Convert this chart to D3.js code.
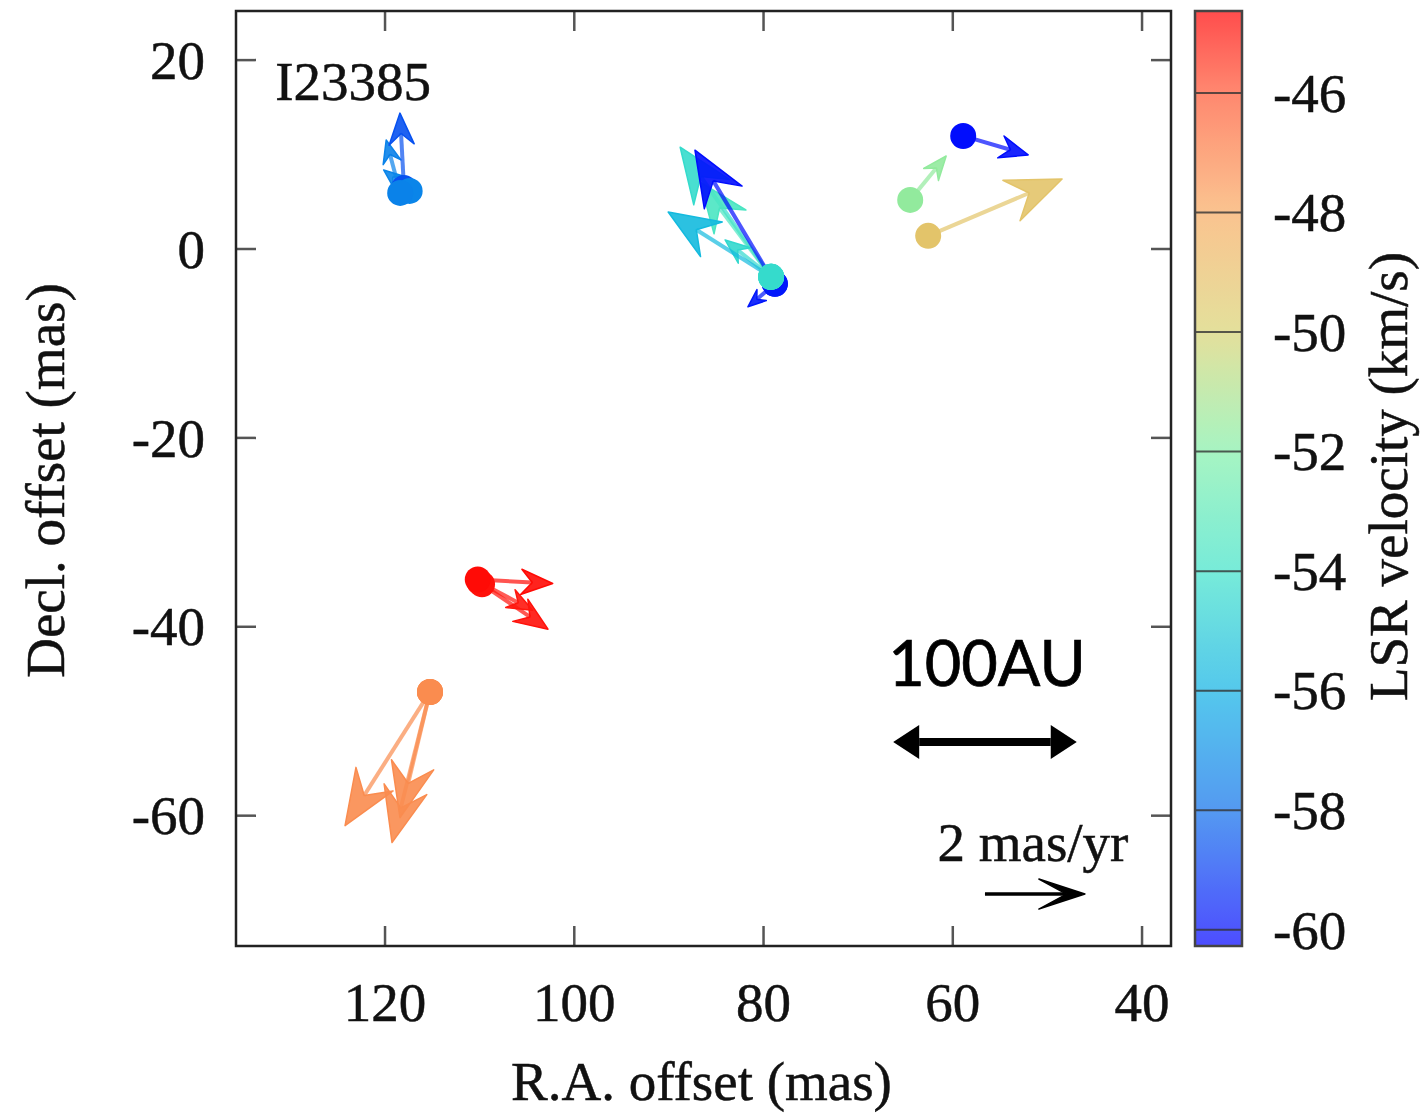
<!DOCTYPE html>
<html>
<head>
<meta charset="utf-8">
<script src="https://cdn.jsdelivr.net/npm/d3@7"></script>
<style>
  body { margin: 0; background: #fff; }
  text { font-family: "Liberation Serif", "DejaVu Serif", serif; fill: #111; stroke: #111; stroke-width: 0.5px; }
</style>
</head>
<body>
<div id="chart"></div>
<script>
// maser spots: position (mas), LSR velocity (km/s), proper motion (mas/yr, +RA = east)
// order = arrow draw order, circles get drawn in reverse
var spotRA    = [118.4, 117.4, 118.0,  79.2,  79.2,  79.2,  79.2,  78.8,  78.8,  58.9,  64.5,  62.6, 110.2, 109.75, 110.0, 115.25, 115.25, 115.25];
var spotDec   = [5.94,  6.15,  6.47,  -2.95, -2.95, -2.95, -2.95, -3.69, -3.69, 11.97,  5.2,   1.39, -35.0, -35.5, -35.3, -46.9, -46.9, -46.9];
var spotVlsr  = [-57.4, -57.3, -58.6, -54.3, -53.6, -54.4, -55.6, -59.8, -60.0, -60.0, -51.6, -49.3, -44.8, -44.9, -45.0, -47.3, -47.3, -47.3];
var spotMuRA  = [0.28,  0.52,  0.08,  1.82,  1.42,  0.92,  2.06,  0.54,  1.60, -1.30, -0.72, -2.68, -1.50, -1.32, -1.06, 1.70, 0.76, 0.60];
var spotMuDec = [1.06,  0.42,  1.50,  2.60,  1.90,  0.74,  1.30, -0.46,  2.68, -0.38,  0.88,  1.14, -0.08, -0.90, -0.56, -2.68, -3.02, -2.52];

var xTicks = [120, 100, 80, 60, 40];
var yTicks = [20, 0, -20, -40, -60];
var cbTicks = [-46, -48, -50, -52, -54, -56, -58, -60];

// colour palette stops (velocity -> colour)
var paletteVel = [-60.27, -58, -56, -54, -52, -50, -48, -46, -44.63];
var paletteCol = ["#0000ff", "#0a6eeb", "#0ab0e4", "#3ce2c8", "#80f0a8", "#d8d270", "#f8aa5f", "#ff5532", "#ff0000"];

var sourceName = "I23385";
var vecScale = 5.28;          // mas of offset drawn per 1 mas/yr
var refMotion = 2;            // mas/yr reference arrow
var refArrowRA = 56.6, refArrowDec = -68.3;
var scaleBarAU = 100;
var scaleBarRA = [66.3, 46.9], scaleBarDec = -52.2;

var W = 1428, H = 1113;
var pL = 236, pR = 1171, pT = 11, pB = 946;
var fs = "55px";

var svg = d3.select("#chart").append("svg")
    .attr("width", W)
    .attr("height", H);

var x = d3.scaleLinear().domain([135.75, 36.94]).range([pL, pR]);
var y = d3.scaleLinear().domain([-73.8, 25.2]).range([pB, pT]);
var color = d3.scaleLinear().domain(paletteVel).range(paletteCol).clamp(true);

// ---- frame + inward ticks on all four sides
var tickLen = 20;
var tickG = svg.append("g").attr("stroke", "#555").attr("stroke-width", 2.5);
xTicks.forEach(function(t) {
    tickG.append("line").attr("x1", x(t)).attr("x2", x(t)).attr("y1", pB).attr("y2", pB - tickLen);
    tickG.append("line").attr("x1", x(t)).attr("x2", x(t)).attr("y1", pT).attr("y2", pT + tickLen);
});
yTicks.forEach(function(t) {
    tickG.append("line").attr("x1", pL).attr("x2", pL + tickLen).attr("y1", y(t)).attr("y2", y(t));
    tickG.append("line").attr("x1", pR).attr("x2", pR - tickLen).attr("y1", y(t)).attr("y2", y(t));
});

svg.append("rect")
    .attr("x", pL).attr("y", pT)
    .attr("width", pR - pL).attr("height", pB - pT)
    .attr("fill", "none").attr("stroke", "#222").attr("stroke-width", 2.5);

svg.selectAll(".xlab").data(xTicks).enter().append("text")
    .attr("class", "xlab")
    .attr("x", function(d) { return x(d); })
    .attr("y", 1021)
    .attr("text-anchor", "middle")
    .style("font-size", fs)
    .text(function(d) { return d; });

svg.selectAll(".ylab").data(yTicks).enter().append("text")
    .attr("class", "ylab")
    .attr("x", 205)
    .attr("y", function(d) { return y(d); })
    .attr("dy", "0.34em")
    .attr("text-anchor", "end")
    .style("font-size", fs)
    .text(function(d) { return d; });

svg.append("text")
    .attr("x", (pL + pR) / 2 - 2).attr("y", 1100)
    .attr("text-anchor", "middle")
    .style("font-size", fs)
    .text("R.A. offset (mas)");

svg.append("text")
    .attr("transform", "translate(64," + ((pT + pB) / 2 + 2) + ") rotate(-90)")
    .attr("text-anchor", "middle")
    .style("font-size", fs)
    .text("Decl. offset (mas)");

// ---- arrows
function arrowParts(x0, y0, x1, y1, hlFix, hwFix, notchFrac) {
    var dx = x1 - x0, dy = y1 - y0;
    var L = Math.sqrt(dx * dx + dy * dy);
    var ux = dx / L, uy = dy / L;
    var nx = -uy, ny = ux;
    var hl = hlFix || Math.max(18, Math.min(0.42 * L, 55));
    var hw = hwFix || hl * 0.4;
    var nf = notchFrac == null ? 0.35 : notchFrac;
    var bx = x1 - ux * hl, by = y1 - uy * hl;
    var mx = x1 - ux * hl * (1 - nf), my = y1 - uy * hl * (1 - nf);
    var head = "M" + x1 + "," + y1 +
        "L" + (bx + nx * hw) + "," + (by + ny * hw) +
        "L" + mx + "," + my +
        "L" + (bx - nx * hw) + "," + (by - ny * hw) + "Z";
    return {head: head, sx: mx, sy: my};
}

var spots = spotRA.map(function(ra, i) {
    return {ra: ra, dec: spotDec[i], v: spotVlsr[i], mra: spotMuRA[i], mdec: spotMuDec[i]};
});

var arrowG = svg.append("g");
spots.forEach(function(d) {
    var x0 = x(d.ra), y0 = y(d.dec);
    var x1 = x(d.ra + d.mra * vecScale), y1 = y(d.dec + d.mdec * vecScale);
    var a = arrowParts(x0, y0, x1, y1);
    var c = color(d.v);
    arrowG.append("line")
        .attr("x1", x0).attr("y1", y0).attr("x2", a.sx).attr("y2", a.sy)
        .attr("stroke", c).attr("stroke-width", 4).attr("stroke-opacity", 0.7);
    arrowG.append("path")
        .attr("d", a.head)
        .attr("fill", c).attr("fill-opacity", 0.9)
        .attr("stroke", c).attr("stroke-width", 1.5).attr("stroke-linejoin", "round");
});

svg.append("g").selectAll("circle")
    .data(spots.slice().reverse())
    .enter().append("circle")
    .attr("cx", function(d) { return x(d.ra); })
    .attr("cy", function(d) { return y(d.dec); })
    .attr("r", 13)
    .attr("fill", function(d) { return color(d.v); });

// source name
svg.append("text")
    .attr("x", x(131.6)).attr("y", y(15.8))
    .style("font-size", fs)
    .text(sourceName);

// 100 AU scale bar
var sbY = y(scaleBarDec), sbX0 = x(scaleBarRA[0]), sbX1 = x(scaleBarRA[1]);
var sbL = arrowParts(sbX1, sbY, sbX0, sbY, 26, 17, 0);
var sbR = arrowParts(sbX0, sbY, sbX1, sbY, 26, 17, 0);
svg.append("line")
    .attr("x1", sbL.sx).attr("x2", sbR.sx).attr("y1", sbY).attr("y2", sbY)
    .attr("stroke", "#000").attr("stroke-width", 8);
svg.append("path").attr("d", sbL.head).attr("fill", "#000");
svg.append("path").attr("d", sbR.head).attr("fill", "#000");
svg.append("text")
    .attr("x", (sbX0 + sbX1) / 2 + 2).attr("y", y(scaleBarDec) - 56)
    .attr("text-anchor", "middle")
    .style("font-family", "Lato, 'Noto Sans', sans-serif")
    .style("font-size", "63px")
    .style("fill", "#000").style("stroke", "#000").style("stroke-width", "0.7px")
    .text(scaleBarAU + "AU");

// reference proper motion arrow
var rx0 = x(refArrowRA), ry0 = y(refArrowDec);
var rx1 = x(refArrowRA - refMotion * vecScale);
var ref = arrowParts(rx0, ry0, rx1, ry0, 46, 15, 0.6);
svg.append("line")
    .attr("x1", rx0).attr("x2", ref.sx).attr("y1", ry0).attr("y2", ry0)
    .attr("stroke", "#000").attr("stroke-width", 3.5);
svg.append("path").attr("d", ref.head).attr("fill", "#000")
    .attr("stroke", "#000").attr("stroke-width", 1.5).attr("stroke-linejoin", "round");
svg.append("text")
    .attr("x", (rx0 + rx1) / 2 - 2).attr("y", ry0 - 33)
    .attr("text-anchor", "middle")
    .style("font-size", fs)
    .text(refMotion + " mas/yr");

// ---- colour bar
var cbX = 1195, cbW = 47;
var cy = d3.scaleLinear().domain([-60.27, -44.63]).range([pB, pT]);

var grad = svg.append("defs").append("linearGradient")
    .attr("id", "cbgrad")
    .attr("x1", 0).attr("y1", 1).attr("x2", 0).attr("y2", 0);
d3.range(0, 1.0001, 0.02).forEach(function(f) {
    var v = cy.domain()[0] + f * (cy.domain()[1] - cy.domain()[0]);
    grad.append("stop")
        .attr("offset", f)
        .attr("stop-color", d3.interpolateRgb("#ffffff", color(v))(0.7));
});

svg.append("rect")
    .attr("x", cbX).attr("y", pT)
    .attr("width", cbW).attr("height", pB - pT)
    .attr("fill", "url(#cbgrad)");

svg.append("g").selectAll("line")
    .data(cbTicks)
    .enter().append("line")
    .attr("x1", cbX).attr("x2", cbX + cbW)
    .attr("y1", function(d) { return cy(d); })
    .attr("y2", function(d) { return cy(d); })
    .attr("stroke", "#333").attr("stroke-width", 2).attr("stroke-opacity", 0.8);

svg.append("rect")
    .attr("x", cbX).attr("y", pT)
    .attr("width", cbW).attr("height", pB - pT)
    .attr("fill", "none").attr("stroke", "#444").attr("stroke-width", 2.5);

svg.selectAll(".cblab").data(cbTicks).enter().append("text")
    .attr("class", "cblab")
    .attr("x", 1273)
    .attr("y", function(d) { return cy(d); })
    .attr("dy", "0.34em")
    .style("font-size", fs)
    .text(function(d) { return d; });

svg.append("text")
    .attr("transform", "translate(1407," + ((pT + pB) / 2 - 2) + ") rotate(-90)")
    .attr("text-anchor", "middle")
    .style("font-size", fs)
    .text("LSR velocity (km/s)");
</script>
</body>
</html>
